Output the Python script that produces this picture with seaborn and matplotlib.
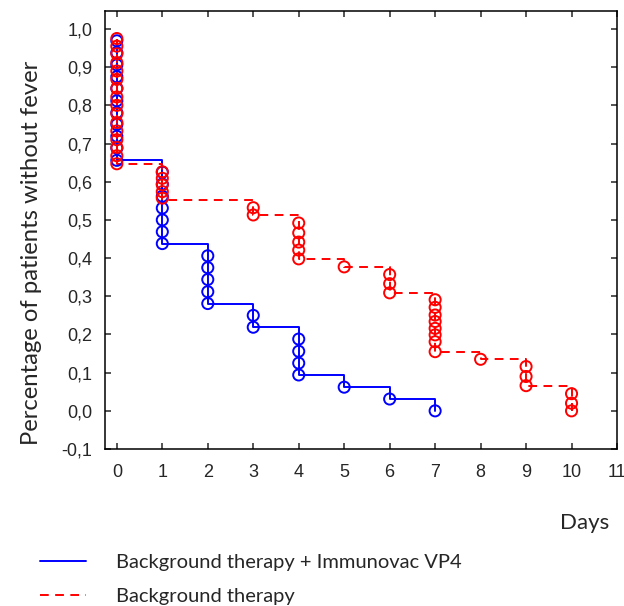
import numpy as np
import pandas as pd
import matplotlib
matplotlib.use("Agg")
import matplotlib.pyplot as plt
import seaborn as sns
from matplotlib.lines import Line2D

# step curves (day, share of patients without fever)
vp4_step_days = [0, 0, 1, 2, 3, 4, 5, 6, 7]
vp4_step_vals = [0.969, 0.656, 0.438, 0.281, 0.219, 0.094, 0.062, 0.031, 0.0]
bg_step_days = [0, 0, 1, 3, 4, 5, 6, 7, 8, 9, 10]
bg_step_vals = [0.975, 0.647, 0.552, 0.513, 0.398, 0.377, 0.309, 0.155, 0.135, 0.066, 0.0]

# circles on the curves
vp4_mark_days = [0] * 11 + [1] * 7 + [2] * 5 + [3] * 2 + [4] * 4 + [5, 6, 7]
vp4_mark_vals = [0.969, 0.938, 0.906, 0.875, 0.844, 0.812, 0.781, 0.750, 0.719, 0.688, 0.656,
                 0.625, 0.594, 0.562, 0.531, 0.500, 0.469, 0.438,
                 0.406, 0.375, 0.344, 0.312, 0.281,
                 0.250, 0.219,
                 0.188, 0.156, 0.125, 0.094,
                 0.062, 0.031, 0.000]
bg_mark_days = [0] * 16 + [1] * 5 + [3] * 2 + [4] * 5 + [5] + [6] * 3 + [7] * 8 + [8] + [9] * 3 + [10] * 3
bg_mark_vals = [0.975, 0.955, 0.935, 0.912, 0.890, 0.868, 0.845, 0.822, 0.800, 0.778, 0.755,
                0.733, 0.710, 0.690, 0.668, 0.647,
                0.626, 0.609, 0.592, 0.574, 0.557,
                0.532, 0.513,
                0.492, 0.466, 0.442, 0.421, 0.398,
                0.377,
                0.357, 0.333, 0.309,
                0.291, 0.271, 0.251, 0.234, 0.216, 0.199, 0.181, 0.155,
                0.135,
                0.116, 0.090, 0.066,
                0.045, 0.020, 0.000]

x_ticks = list(range(0, 12))
y_ticks = [-0.1, 0.0, 0.1, 0.2, 0.3, 0.4, 0.5, 0.6, 0.7, 0.8, 0.9, 1.0]
y_ticklabels = ["-0,1", "0,0", "0,1", "0,2", "0,3", "0,4", "0,5", "0,6", "0,7", "0,8", "0,9", "1,0"]

label_vp4 = "Background therapy + Immunovac VP4"
label_bg = "Background therapy"

sns.set_style("ticks")
plt.rcParams["font.family"] = ["Liberation Sans", "DejaVu Sans"]

fig = plt.figure(figsize=(6.24, 6.06), dpi=100)
ax = fig.add_axes([0.1683, 0.259, 0.8205, 0.7228])

sns.lineplot(x=vp4_step_days, y=vp4_step_vals, drawstyle="steps-post", color="#0000ff",
             linewidth=1.4, sort=False, estimator=None, ax=ax)
sns.lineplot(x=bg_step_days, y=bg_step_vals, drawstyle="steps-post", color="#ff0000",
             linewidth=1.4, dashes=False, sort=False, estimator=None, ax=ax,
             linestyle=(0, (4.5, 3.3)))
sns.scatterplot(x=vp4_mark_days, y=vp4_mark_vals, marker="o", s=64, facecolors="none",
                edgecolors="#0000ff", linewidths=1.4, ax=ax, zorder=3)
sns.scatterplot(x=bg_mark_days, y=bg_mark_vals, marker="o", s=64, facecolors="none",
                edgecolors="#ff0000", linewidths=1.4, ax=ax, zorder=4)

ax.set_xlim(-0.26, 11.0)
ax.set_ylim(-0.1, 1.047)
ax.set_xticks(x_ticks)
ax.set_yticks(y_ticks)
ax.set_yticklabels(y_ticklabels)
ax.tick_params(direction="in", length=4, width=1.1, top=True, right=True, labelsize=13)
ax.tick_params(axis="x", pad=11)
ax.tick_params(axis="y", pad=9)
for sp in ax.spines.values():
    sp.set_linewidth(1.1)
    sp.set_color("black")

ax.set_ylabel("Percentage of patients without fever", family=["Lato", "DejaVu Sans"], fontsize=17.2)
ax.yaxis.set_label_coords(-0.123, 0.448)
ax.set_xlabel("Days", family=["Lato", "DejaVu Sans"], fontsize=16)
ax.xaxis.set_label_coords(0.9375, -0.145)

handles = [Line2D([], [], color="#0000ff", linewidth=1.4),
           Line2D([], [], color="#ff0000", linewidth=1.4, linestyle=(0, (4.5, 3.3)))]
fig.legend(handles=handles, labels=[label_vp4, label_bg], loc="upper left",
           bbox_to_anchor=(40 / 624, 1 - 554 / 606), frameon=False, borderpad=0,
           borderaxespad=0, handlelength=2.3, handletextpad=1.45, labelspacing=0.85,
           prop={"family": ["Lato", "DejaVu Sans"], "size": 14.5})

fig.savefig("out.png", dpi=100)
